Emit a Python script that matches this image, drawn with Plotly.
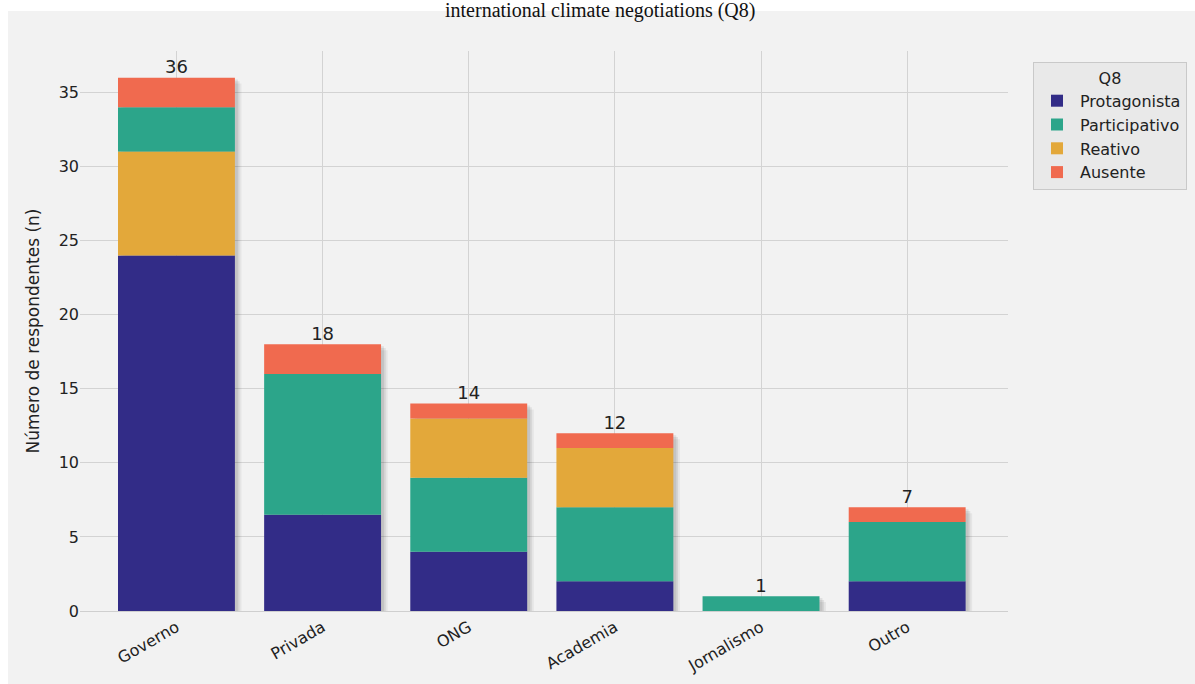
import plotly.graph_objects as go

categories = ["Governo", "Privada", "ONG", "Academia", "Jornalismo", "Outro"]
series_names = ["Protagonista", "Participativo", "Reativo", "Ausente"]
protagonista = [24, 6.5, 4, 2, 0, 2]
participativo = [3, 9.5, 5, 5, 1, 4]
reativo = [7, 0, 4, 4, 0, 0]
ausente = [2, 2, 1, 1, 0, 1]
# stacking order (bottom -> top) per category as seen in the picture
stack_orders = [
    ["Protagonista", "Reativo", "Participativo", "Ausente"],
    ["Protagonista", "Participativo", "Reativo", "Ausente"],
    ["Protagonista", "Participativo", "Reativo", "Ausente"],
    ["Protagonista", "Participativo", "Reativo", "Ausente"],
    ["Protagonista", "Participativo", "Reativo", "Ausente"],
    ["Protagonista", "Participativo", "Reativo", "Ausente"],
]
colors = {
    "Protagonista": "#322c87",
    "Participativo": "#2ca58a",
    "Reativo": "#e3a83a",
    "Ausente": "#f06a4f",
}
title_text = "international climate negotiations (Q8)"
y_title = "Número de respondentes (n)"
legend_title = "Q8"

values = {
    "Protagonista": protagonista,
    "Participativo": participativo,
    "Reativo": reativo,
    "Ausente": ausente,
}
totals = [sum(values[s][i] for s in series_names) for i in range(len(categories))]

bases = {s: [0.0] * len(categories) for s in series_names}
for i, order in enumerate(stack_orders):
    acc = 0.0
    for s in order:
        bases[s][i] = acc
        acc += values[s][i]

FONT = "DejaVu Sans, Liberation Sans, sans-serif"
BW = 0.8

fig = go.Figure()

# soft (layered) drop shadow behind each stacked bar
for dx, dy, a in [(0.045, 0.45, 0.05), (0.032, 0.3, 0.07), (0.02, 0.18, 0.08)]:
    fig.add_trace(go.Bar(
        x=categories, y=[t + 0.05 for t in totals], base=[-dy] * len(totals),
        width=BW, offset=-BW / 2 + dx,
        marker=dict(color=f"rgba(0,0,0,{a})", line=dict(width=0)),
        showlegend=False, hoverinfo="skip",
    ))

for s in series_names:
    fig.add_trace(go.Bar(
        x=categories, y=values[s], base=bases[s], name=s,
        width=BW, marker=dict(color=colors[s], line=dict(width=0)),
    ))

fig.add_trace(go.Scatter(
    x=categories, y=totals, mode="text", text=[f"{t:g}" for t in totals],
    textposition="top center",
    textfont=dict(family=FONT, size=18, color="#222222"),
    showlegend=False, hoverinfo="skip",
))

L, R, T, B = 80, 187, 51, 73
W, H = 1195, 684
pw = W - L - R
ph = H - T - B

fig.add_shape(
    type="rect", xref="paper", yref="paper",
    x0=(8 - L) / pw, x1=(W - L + 20) / pw,
    y0=-(B + 20) / ph, y1=(H - B - 11) / ph,
    fillcolor="#f2f2f2", line=dict(width=0), layer="below",
)

fig.add_annotation(
    text=title_text, xref="paper", yref="paper",
    x=(600 - L) / pw, y=(H - B - 10) / ph, xanchor="center", yanchor="middle",
    showarrow=False, font=dict(family="Liberation Serif, Times New Roman, serif", size=20, color="#111111"),
)

fig.update_layout(
    width=W, height=H,
    margin=dict(l=L, r=R, t=T, b=B, pad=0, autoexpand=False),
    barmode="overlay",
    paper_bgcolor="white",
    plot_bgcolor="rgba(0,0,0,0)",
    font=dict(family=FONT, size=16, color="#333333"),
    legend=dict(
        xref="container", yref="container",
        x=1033 / W, y=1 - 62 / H, xanchor="left", yanchor="top",
        bgcolor="#e9e9e9", bordercolor="#c9c9c9", borderwidth=1,
        font=dict(family=FONT, size=16, color="#222222"),
        title=dict(text=legend_title, side="top center", font=dict(family=FONT, size=16, color="#222222")),
        tracegroupgap=0, itemwidth=36,
    ),
    showlegend=True,
)

fig.update_xaxes(
    type="category", categoryorder="array", categoryarray=categories,
    range=[-0.66, 5.69],
    showgrid=True, gridcolor="#d3d3d3", gridwidth=1,
    tickangle=-30, tickfont=dict(family=FONT, size=16, color="#222222"),
    ticks="", showline=True, linecolor="#cfcfcf", linewidth=1, zeroline=False,
)
fig.update_yaxes(
    range=[0, 37.8], dtick=5, tick0=0,
    showgrid=True, gridcolor="#d3d3d3", gridwidth=1,
    tickfont=dict(family=FONT, size=16, color="#222222"),
    ticks="",
    title=dict(text=y_title, font=dict(family=FONT, size=17, color="#222222"), standoff=14),
    zeroline=False, showline=False,
)

fig.write_html("out.html")
